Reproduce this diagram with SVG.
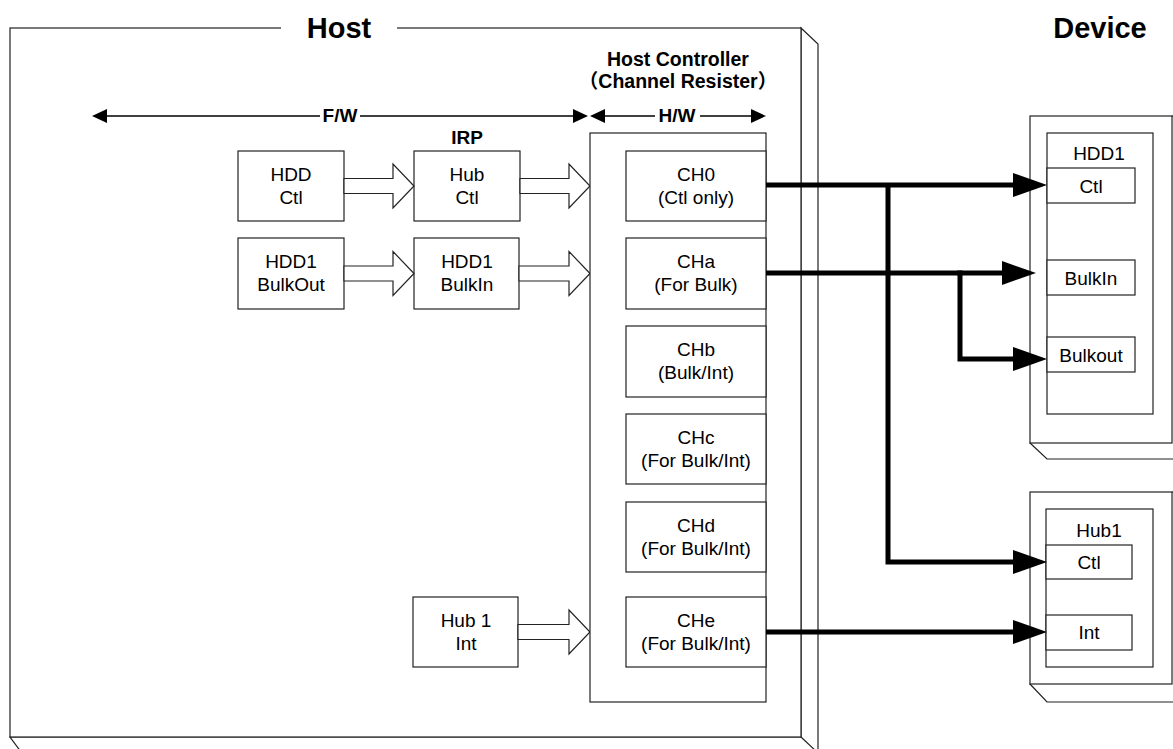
<svg xmlns="http://www.w3.org/2000/svg" width="1173" height="749" viewBox="0 0 1173 749">
<style>
  .box{fill:#fff;stroke:#222;stroke-width:1.2}
  .t{font-family:"Liberation Sans",Arial,sans-serif;font-size:19px;fill:#000;text-anchor:middle}
  .b{font-family:"Liberation Sans",Arial,"Noto Sans CJK JP",sans-serif;font-weight:bold;fill:#000;text-anchor:middle}
  .blk{fill:#fff;stroke:#222;stroke-width:1.2}
  .thick{fill:none;stroke:#000;stroke-width:5;stroke-linejoin:miter}
  .thin{fill:none;stroke:#000;stroke-width:1.4}
</style>
<defs>
  <marker id="ah" markerUnits="userSpaceOnUse" markerWidth="36" markerHeight="26" refX="0" refY="13" orient="auto" viewBox="0 0 36 26">
    <path d="M0,1 L34,13 L0,25 Z" fill="#000"/>
  </marker>
</defs>
<rect width="1173" height="749" fill="#fff"/>

<g id="host">
  <polygon points="801,28 818,44 818,760 27,760 10,737 801,737" fill="#fff" stroke="#222" stroke-width="1.2"/>
  <line x1="801" y1="737" x2="818" y2="753" stroke="#222" stroke-width="1.2"/>
  <rect x="10" y="28" width="791" height="709" class="box"/>
  <rect x="281" y="18" width="116" height="20" fill="#fff"/>
  <text x="339" y="38" class="b" font-size="29">Host</text>
</g>
<text x="1100" y="38" class="b" font-size="29">Device</text>

<g id="fw">
  <line x1="100" y1="116" x2="320" y2="116" class="thin"/>
  <line x1="360" y1="116" x2="580" y2="116" class="thin"/>
  <polygon points="92,116 107,109 107,123" fill="#000"/>
  <polygon points="588,116 573,109 573,123" fill="#000"/>
  <text x="340" y="122" class="b" font-size="19">F/W</text>
</g>
<g id="hw">
  <line x1="600" y1="116" x2="655" y2="116" class="thin"/>
  <line x1="700" y1="116" x2="758" y2="116" class="thin"/>
  <polygon points="590,116 605,109 605,123" fill="#000"/>
  <polygon points="766,116 751,109 751,123" fill="#000"/>
  <text x="677" y="122" class="b" font-size="19">H/W</text>
</g>
<text x="678" y="66" class="b" font-size="19.5">Host Controller</text>
<text x="678" y="88" class="b" font-size="19.5">（Channel Resister）</text>
<text x="467" y="144" class="b" font-size="19">IRP</text>

<g id="hdd-ctl">
  <rect x="238" y="151" width="106" height="70" class="box"/>
  <text x="291" y="181" class="t">HDD</text>
  <text x="291" y="204" class="t">Ctl</text>
</g>
<g id="hub-ctl">
  <rect x="414" y="151" width="106" height="70" class="box"/>
  <text x="467" y="181" class="t">Hub</text>
  <text x="467" y="204" class="t">Ctl</text>
</g>
<g id="hdd1-bulkout">
  <rect x="238" y="238" width="106" height="71" class="box"/>
  <text x="291" y="268" class="t">HDD1</text>
  <text x="291" y="291" class="t">BulkOut</text>
</g>
<g id="hdd1-bulkin">
  <rect x="414" y="238" width="105" height="71" class="box"/>
  <text x="467" y="268" class="t">HDD1</text>
  <text x="467" y="291" class="t">BulkIn</text>
</g>
<g id="hub1-int">
  <rect x="413" y="597" width="105" height="70" class="box"/>
  <text x="466" y="627" class="t">Hub 1</text>
  <text x="466" y="650" class="t">Int</text>
</g>

<g id="block-arrows">
  <polygon class="blk" points="344,178.5 393,178.5 393,164 414,186 393,208 393,193.5 344,193.5"/>
  <polygon class="blk" points="520,178.5 569,178.5 569,164 590,186 569,208 569,193.5 520,193.5"/>
  <polygon class="blk" points="344,266 393,266 393,251.5 414,273.5 393,295.5 393,281 344,281"/>
  <polygon class="blk" points="519,266 569,266 569,251.5 590,273.5 569,295.5 569,281 519,281"/>
  <polygon class="blk" points="518,624.5 569,624.5 569,610 590,632 569,654 569,639.5 518,639.5"/>
</g>

<g id="host-controller">
  <rect x="590" y="133" width="176" height="569" class="box"/>
</g>
<g id="ch0">
  <rect x="626" y="151" width="140" height="70" class="box"/>
  <text x="696" y="181" class="t">CH0</text>
  <text x="696" y="204" class="t">(Ctl only)</text>
</g>
<g id="cha">
  <rect x="626" y="238" width="140" height="71" class="box"/>
  <text x="696" y="268" class="t">CHa</text>
  <text x="696" y="291" class="t">(For Bulk)</text>
</g>
<g id="chb">
  <rect x="626" y="326" width="140" height="71" class="box"/>
  <text x="696" y="356" class="t">CHb</text>
  <text x="696" y="379" class="t">(Bulk/Int)</text>
</g>
<g id="chc">
  <rect x="626" y="414" width="140" height="70" class="box"/>
  <text x="696" y="444" class="t">CHc</text>
  <text x="696" y="467" class="t">(For Bulk/Int)</text>
</g>
<g id="chd">
  <rect x="626" y="502" width="140" height="70" class="box"/>
  <text x="696" y="532" class="t">CHd</text>
  <text x="696" y="555" class="t">(For Bulk/Int)</text>
</g>
<g id="che">
  <rect x="626" y="597" width="140" height="70" class="box"/>
  <text x="696" y="627" class="t">CHe</text>
  <text x="696" y="650" class="t">(For Bulk/Int)</text>
</g>

<g id="dev-hdd1">
  <polygon points="1030,443 1047,459 1190,459 1190,116 1172,116" fill="#fff" stroke="#222" stroke-width="1.2"/>
  <rect x="1030" y="116" width="142" height="327" class="box"/>
  <rect x="1047" y="133" width="106" height="281" class="box"/>
  <text x="1099" y="160" class="t">HDD1</text>
  <g id="hdd1-ctl">
    <rect x="1047" y="168" width="88" height="35" class="box"/>
    <text x="1091" y="193" class="t">Ctl</text>
  </g>
  <g id="hdd1-bulkin-ep">
    <rect x="1047" y="260" width="88" height="35" class="box"/>
    <text x="1091" y="285" class="t">BulkIn</text>
  </g>
  <g id="hdd1-bulkout-ep">
    <rect x="1047" y="337" width="88" height="35" class="box"/>
    <text x="1091" y="362" class="t">Bulkout</text>
  </g>
</g>
<g id="dev-hub1">
  <polygon points="1030,684 1047,702 1190,702 1190,492 1172,492" fill="#fff" stroke="#222" stroke-width="1.2"/>
  <rect x="1030" y="492" width="142" height="192" class="box"/>
  <rect x="1046" y="509" width="107" height="158" class="box"/>
  <text x="1099" y="537" class="t">Hub1</text>
  <g id="hub1-ctl">
    <rect x="1046" y="545" width="86" height="34" class="box"/>
    <text x="1089" y="569" class="t">Ctl</text>
  </g>
  <g id="hub1-int-ep">
    <rect x="1046" y="615" width="86" height="35" class="box"/>
    <text x="1089" y="639" class="t">Int</text>
  </g>
</g>

<g id="connectors">
  <path class="thick" d="M766,185 H1013" marker-end="url(#ah)"/>
  <path class="thick" d="M888,183 V562 H1013" marker-end="url(#ah)"/>
  <path class="thick" d="M766,273 H1002" marker-end="url(#ah)"/>
  <path class="thick" d="M957,273 H960 V359 H1013" marker-end="url(#ah)"/>
  <path class="thick" d="M766,632 H1013" marker-end="url(#ah)"/>
</g>
</svg>
